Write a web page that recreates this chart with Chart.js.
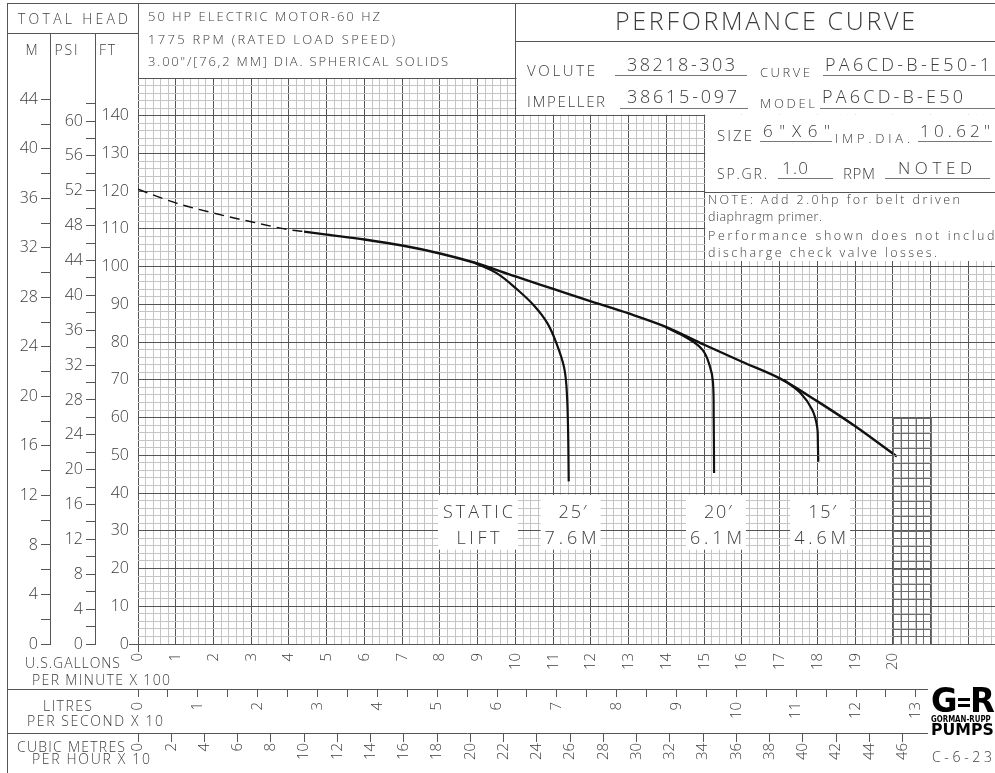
<!DOCTYPE html>
<html>
<head>
<meta charset="utf-8">
<script src="https://cdn.jsdelivr.net/npm/chart.js@4.4.1/dist/chart.umd.min.js"></script>
<style>
  html, body { margin: 0; padding: 0; background: #fff; }
  #wrap { width: 995px; height: 773px; }
</style>
</head>
<body>
<div id="wrap"><canvas id="pc" width="995" height="773"></canvas></div>
<script>
// flow is U.S. gallons per minute x 100, head is feet
const shutoffFlow = [0, 1, 2, 3, 4, 4.4];
const shutoffHead = [120.5, 116.9, 114.2, 111.9, 109.8, 109.3];
const pumpFlow = [4.4, 5, 6, 7, 8, 8.9, 10, 11, 12, 13, 14, 15, 16, 17, 18, 19, 20.1];
const pumpHead = [109.3, 108.5, 107.2, 105.6, 103.5, 101.1, 97.4, 94.1, 90.8, 87.6, 84.0, 79.3, 74.8, 70.4, 64.3, 57.7, 49.7];
const lift25Flow = [8.9, 9.5, 10.05, 10.5, 10.84, 11.1, 11.28, 11.35, 11.39, 11.41];
const lift25Head = [101.1, 98.3, 93.9, 89.6, 85.1, 79.3, 73.6, 68.3, 58, 43.1];
const lift20Flow = [13.97, 14.55, 14.95, 15.15, 15.23, 15.25, 15.26];
const lift20Head = [84.0, 81.1, 78.0, 73.6, 69.5, 60, 45.3];
const lift15Flow = [17.1, 17.55, 17.86, 17.99, 18.01, 18.02];
const lift15Head = [70.1, 66.5, 62.1, 57.6, 53, 48.3];
const liftFeet = ["25\u2032", "20\u2032", "15\u2032"];
const liftMetres = ["7.6M", "6.1M", "4.6M"];

// tick labels
const ftLabels = [0, 10, 20, 30, 40, 50, 60, 70, 80, 90, 100, 110, 120, 130, 140];
const mLabels = [0, 4, 8, 12, 16, 20, 24, 28, 32, 36, 40, 44];
const psiLabels = [0, 4, 8, 12, 16, 20, 24, 28, 32, 36, 40, 44, 48, 52, 56, 60];
const gpmLabels = [0, 1, 2, 3, 4, 5, 6, 7, 8, 9, 10, 11, 12, 13, 14, 15, 16, 17, 18, 19, 20];
const lpsLabels = [0, 1, 2, 3, 4, 5, 6, 7, 8, 9, 10, 11, 12, 13];
const m3hLabels = [0, 2, 4, 6, 8, 10, 12, 14, 16, 18, 20, 22, 24, 26, 28, 30, 32, 34, 36, 38, 40, 42, 44, 46];

// unit conversions
const FT_PER_M = 3.2808;
const FT_PER_PSI = 2.31;
const GPM_PER_LPS = 1.585;   // (gpm/100) per (l/s /10)
const GPM_PER_M3H = 0.4403;  // (gpm/100) per (m3/h /10)

const X_MAX = 22.702;
const FT_MAX = 150;

const FONT = '"Open Sans", "DejaVu Sans", sans-serif';
const WEIGHT = 300;
const INK = '#3c3c3c';
const MAJOR = '#555';
const MINOR = '#c4c4c4';
const LINE = '#555';

const isWhole = v => Math.abs(v - Math.round(v)) < 1e-6;
const pts = (xs, ys) => xs.map((x, i) => ({ x: x, y: ys[i] }));
const tickFont = size => ({ family: FONT, size: size, weight: WEIGHT });

// fixed axis box, no extra room for end labels
function boxSize(w, h) {
  return a => {
    if (w) a.width = w;
    if (h) a.height = h;
    a.paddingLeft = a.paddingRight = a.paddingTop = a.paddingBottom = 0;
  };
}

function fitText(ctx, str, left, right, cy, size) {
  ctx.save();
  ctx.font = WEIGHT + ' ' + size + 'px ' + FONT;
  ctx.fillStyle = INK;
  ctx.textBaseline = 'alphabetic';
  ctx.textAlign = 'left';
  ctx.letterSpacing = '0px';
  const w = ctx.measureText(str).width;
  const n = str.length;
  const ls = n > 1 ? (right - left - w) / (n - 1) : 0;
  const y = cy + size * 0.36;
  if (ls < -1) {
    ctx.translate(left, y);
    ctx.scale((right - left) / w, 1);
    ctx.fillText(str, 0, 0);
  } else {
    ctx.letterSpacing = ls + 'px';
    ctx.fillText(str, left, y);
  }
  ctx.restore();
}

function centerText(ctx, str, cx, width, cy, size) {
  fitText(ctx, str, cx - width / 2, cx + width / 2, cy, size);
}

function hline(ctx, x1, x2, y) {
  ctx.beginPath(); ctx.moveTo(x1, Math.round(y) + 0.5); ctx.lineTo(x2, Math.round(y) + 0.5); ctx.stroke();
}
function vline(ctx, x, y1, y2) {
  ctx.beginPath(); ctx.moveTo(Math.round(x) + 0.5, y1); ctx.lineTo(Math.round(x) + 0.5, y2); ctx.stroke();
}

const sheet = {
  id: 'sheet',
  afterDraw(chart) {
    const ctx = chart.ctx;
    const s = chart.scales;
    const X = v => s.x.getPixelForValue(v);
    const Y = v => s.yFT.getPixelForValue(v);
    const W = chart.width;
    ctx.save();

    // darker ruling block at 2000-2100 gpm
    ctx.strokeStyle = '#6e6e6e';
    ctx.lineWidth = 1;
    for (let v = 20; v <= 21.0001; v += 0.2) vline(ctx, X(v), Y(60), Y(0));
    for (let h = 0; h <= 60; h += 2) hline(ctx, X(20), X(21), Y(h));
    hline(ctx, X(18), X(19), Y(50));
    hline(ctx, X(20), X(21.2), Y(50));

    // white title blocks over the grid
    ctx.fillStyle = '#fff';
    ctx.fillRect(X(10) + 1, 0, W - X(10), Y(140) - 1);
    ctx.fillRect(X(15) + 1, Y(140) - 1, W - X(15), 262 - Y(140));

    // frame lines
    ctx.strokeStyle = LINE;
    ctx.lineWidth = 1;
    vline(ctx, 7, 3, chart.height);
    hline(ctx, 7, W, 3);
    hline(ctx, 7, s.yFT.right, 33);
    vline(ctx, s.yFT.right, 3, s.yFT.top);
    vline(ctx, s.yM.right, 33, s.yM.top);
    vline(ctx, s.yPSI.right, 33, s.yPSI.top);
    vline(ctx, X(10), 3, Y(140));
    hline(ctx, X(10), W, 41);
    hline(ctx, X(15), W, 192);
    hline(ctx, 7, 928, s.xL.top);
    hline(ctx, 7, 928, s.xM.top);

    // head column titles
    fitText(ctx, 'TOTAL HEAD', 18, 128, 19, 14);
    centerText(ctx, 'M', 31, 11, 50, 14);
    centerText(ctx, 'PSI', 66, 23, 50, 14);
    fitText(ctx, 'FT', 99, 115, 50, 14);

    fitText(ctx, '50 HP ELECTRIC MOTOR-60 HZ', 148, 380, 16, 13);
    fitText(ctx, '1775 RPM (RATED LOAD SPEED)', 148, 395, 39, 13);
    fitText(ctx, '3.00"/[76,2 MM] DIA. SPHERICAL SOLIDS', 148, 448, 61, 13);

    fitText(ctx, 'PERFORMANCE CURVE', 615, 915, 21, 25);

    fitText(ctx, 'VOLUTE', 527, 595, 71, 15);
    fitText(ctx, '38218-303', 627, 735, 65, 18);
    fitText(ctx, 'CURVE', 760, 810, 72, 13);
    fitText(ctx, 'PA6CD-B-E50-1', 825, 990, 65, 18);
    fitText(ctx, 'IMPELLER', 527, 605, 102, 15);
    fitText(ctx, '38615-097', 627, 737, 97, 18);
    fitText(ctx, 'MODEL', 760, 815, 103, 13);
    fitText(ctx, 'PA6CD-B-E50', 822, 963, 97, 18);
    fitText(ctx, 'SIZE', 717, 752, 136, 15);
    fitText(ctx, '6"X6"', 763, 830, 131, 17);
    fitText(ctx, 'IMP.DIA.', 835, 910, 138, 13);
    fitText(ctx, '10.62"', 920, 990, 131, 17);
    fitText(ctx, 'SP.GR.', 717, 767, 174, 14);
    fitText(ctx, '1.0', 782, 808, 168, 17);
    fitText(ctx, 'RPM', 843, 875, 174, 15);
    fitText(ctx, 'NOTED', 898, 972, 168, 17);
    ctx.strokeStyle = '#777';
    hline(ctx, 615, 747, 75);
    hline(ctx, 823, W, 75);
    hline(ctx, 620, 748, 108);
    hline(ctx, 820, W, 108);
    hline(ctx, 760, 832, 141);
    hline(ctx, 918, 992, 141);
    hline(ctx, 778, 833, 178);
    hline(ctx, 885, 990, 178);

    fitText(ctx, 'NOTE: Add 2.0hp for belt driven', 708, 960, 199, 12.5);
    fitText(ctx, 'diaphragm primer.', 708, 822, 216, 12.5);
    fitText(ctx, 'Performance shown does not include', 708, 1004, 235, 12.5);
    fitText(ctx, 'discharge check valve losses.', 708, 937, 252, 12.5);

    // static lift labels
    const ends = [lift25Flow, lift20Flow, lift15Flow].map(a => a[a.length - 1]);
    const boxTop = Y(39.5), boxBot = Y(25);
    ctx.fillStyle = '#fff';
    ctx.fillRect(438, boxTop, 80, boxBot - boxTop);
    ends.forEach(f => ctx.fillRect(X(f + 0.05) - 30, boxTop, 60, boxBot - boxTop));
    centerText(ctx, 'STATIC', 478, 70, Y(35), 18);
    centerText(ctx, 'LIFT', 478, 43, Y(28.3), 18);
    ends.forEach((f, i) => {
      centerText(ctx, liftFeet[i], X(f + 0.05) + 2, 28, Y(35), 18);
      centerText(ctx, liftMetres[i], X(f + 0.05), 52, Y(28.3), 18);
    });

    // flow axis titles
    fitText(ctx, 'U.S.GALLONS', 25, 120, 663, 14);
    fitText(ctx, 'PER MINUTE X 100', 32, 170, 680, 14);
    fitText(ctx, 'LITRES', 43, 92, 706, 14);
    fitText(ctx, 'PER SECOND X 10', 27, 163, 721, 14);
    fitText(ctx, 'CUBIC METRES', 17, 125, 747, 14);
    fitText(ctx, 'PER HOUR X 10', 32, 150, 759, 14);

    // maker mark
    const BOLD = '"DejaVu Sans", sans-serif';
    ctx.fillStyle = '#000';
    ctx.textBaseline = 'alphabetic';
    ctx.textAlign = 'left';
    ctx.font = 'bold 34px ' + BOLD;
    ctx.save(); ctx.translate(931, 712); ctx.scale(0.95, 1); ctx.fillText('G', 0, 0); ctx.restore();
    ctx.save(); ctx.translate(970, 712); ctx.scale(0.95, 1); ctx.fillText('R', 0, 0); ctx.restore();
    ctx.fillRect(958, 698, 12, 3);
    ctx.fillRect(958, 704, 12, 3);
    ctx.font = 'bold 9px ' + BOLD;
    ctx.save(); ctx.translate(931, 722); ctx.scale(0.78, 1); ctx.fillText('GORMAN-RUPP', 0, 0); ctx.restore();
    ctx.font = 'bold 15px ' + BOLD;
    ctx.save(); ctx.translate(931, 735); ctx.scale(1.05, 1); ctx.fillText('PUMPS', 0, 0); ctx.restore();
    fitText(ctx, 'C-6-23', 932, 992, 757, 14);

    ctx.restore();
  }
};

const curveStyle = {
  borderColor: '#111', pointRadius: 0, fill: false,
  xAxisID: 'x', yAxisID: 'yFT'
};

new Chart(document.getElementById('pc'), {
  type: 'line',
  data: {
    datasets: [
      Object.assign({ label: 'shutoff', data: pts(shutoffFlow, shutoffHead), borderWidth: 1.5, borderDash: [10, 6], cubicInterpolationMode: 'monotone' }, curveStyle),
      Object.assign({ label: 'head', data: pts(pumpFlow, pumpHead), borderWidth: 2.4, cubicInterpolationMode: 'monotone' }, curveStyle),
      Object.assign({ label: '25 ft lift', data: pts(lift25Flow, lift25Head), borderWidth: 2.2, tension: 0.4 }, curveStyle),
      Object.assign({ label: '20 ft lift', data: pts(lift20Flow, lift20Head), borderWidth: 2.2, tension: 0.4 }, curveStyle),
      Object.assign({ label: '15 ft lift', data: pts(lift15Flow, lift15Head), borderWidth: 2.2, tension: 0.4 }, curveStyle)
    ]
  },
  options: {
    responsive: false,
    animation: false,
    layout: { padding: { left: 7, top: 78, right: 0, bottom: 0 } },
    plugins: { legend: { display: false }, tooltip: { enabled: false } },
    scales: {
      x: {
        type: 'linear', position: 'bottom', weight: 0, min: 0, max: X_MAX,
        afterFit: boxSize(0, 45),
        ticks: {
          stepSize: 0.2, autoSkip: false, includeBounds: false, minRotation: 90, maxRotation: 90,
          padding: 1, color: INK, font: tickFont(15),
          callback: v => (isWhole(v) && gpmLabels.includes(Math.round(v))) ? String(Math.round(v)) : ''
        },
        grid: {
          color: c => isWhole(c.tick.value) ? MAJOR : MINOR,
          tickLength: 8,
          tickColor: c => c.tick.value === 0 ? MAJOR : 'rgba(0,0,0,0)'
        },
        border: { display: false }
      },
      xL: {
        type: 'linear', position: 'bottom', weight: 1, min: 0, max: X_MAX / GPM_PER_LPS,
        afterFit: boxSize(0, 44),
        afterBuildTicks: a => { a.ticks = a.ticks.filter(t => t.value <= 13); },
        ticks: {
          stepSize: 0.5, autoSkip: false, includeBounds: false, minRotation: 90, maxRotation: 90,
          padding: 5, color: INK, font: tickFont(15),
          callback: v => (isWhole(v) && lpsLabels.includes(Math.round(v))) ? String(Math.round(v)) : ''
        },
        grid: { drawOnChartArea: false, tickLength: 8, tickColor: LINE },
        border: { display: false }
      },
      xM: {
        type: 'linear', position: 'bottom', weight: 2, min: 0, max: X_MAX / GPM_PER_M3H,
        afterFit: boxSize(0, 40),
        afterBuildTicks: a => { a.ticks = a.ticks.filter(t => t.value <= 46); },
        ticks: {
          stepSize: 2, autoSkip: false, includeBounds: false, minRotation: 90, maxRotation: 90,
          padding: 1, color: INK, font: tickFont(15),
          callback: v => m3hLabels.includes(v) ? String(v) : ''
        },
        grid: { drawOnChartArea: false, tickLength: 9, tickColor: LINE },
        border: { display: false }
      },
      yFT: {
        type: 'linear', position: 'left', weight: 0, min: 0, max: FT_MAX,
        afterFit: boxSize(43, 0),
        ticks: {
          stepSize: 2, autoSkip: false, includeBounds: false, padding: 0, color: INK, font: tickFont(16),
          callback: v => ftLabels.includes(v) ? String(v) : ''
        },
        grid: {
          color: c => (c.tick.value % 10 === 0) ? MAJOR : MINOR,
          tickLength: 9,
          tickColor: c => c.tick.value === 0 ? MAJOR : 'rgba(0,0,0,0)'
        },
        border: { display: false }
      },
      yPSI: {
        type: 'linear', position: 'left', weight: 1, min: 0, max: FT_MAX / FT_PER_PSI,
        afterFit: boxSize(45, 0),
        afterBuildTicks: a => { a.ticks = a.ticks.filter(t => t.value <= 62); },
        ticks: {
          stepSize: 2, autoSkip: false, includeBounds: false, padding: 3, color: INK, font: tickFont(16),
          callback: v => psiLabels.includes(v) ? String(v) : ''
        },
        grid: { drawOnChartArea: false, tickLength: 9, tickColor: LINE },
        border: { display: true, color: LINE }
      },
      yM: {
        type: 'linear', position: 'left', weight: 2, min: 0, max: FT_MAX / FT_PER_M,
        afterFit: boxSize(43, 0),
        ticks: {
          stepSize: 2, autoSkip: false, includeBounds: false, padding: 3, color: INK, font: tickFont(16),
          callback: v => mLabels.includes(v) ? String(v) : ''
        },
        grid: { drawOnChartArea: false, tickLength: 9, tickColor: LINE },
        border: { display: true, color: LINE }
      }
    }
  },
  plugins: [sheet]
});
</script>
</body>
</html>
